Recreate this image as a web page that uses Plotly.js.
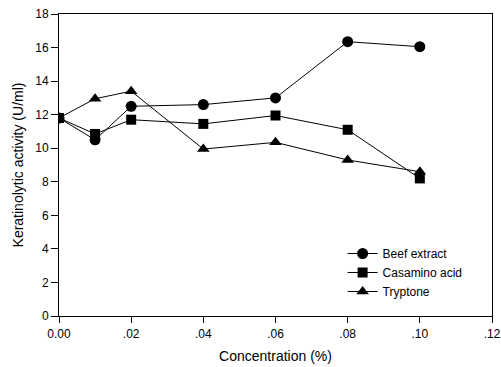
<!DOCTYPE html>
<html><head><meta charset="utf-8">
<script src="https://cdn.plot.ly/plotly-3.0.1.min.js"></script>
<style>body{margin:0;padding:0;background:#fff}#chart{width:501px;height:367px}</style>
</head><body><div id="chart"></div>
<script>
var concentration = [0.00, 0.01, 0.02, 0.04, 0.06, 0.08, 0.10];
var beefExtract = [11.8, 10.5, 12.5, 12.6, 13.0, 16.35, 16.05];
var casaminoAcid = [11.8, 10.85, 11.7, 11.45, 11.95, 11.1, 8.2];
var tryptone = [11.8, 12.95, 13.4, 9.95, 10.35, 9.3, 8.6];
var xTickVals = [0, 0.02, 0.04, 0.06, 0.08, 0.10, 0.12];
var xTickText = ['0.00', '.02', '.04', '.06', '.08', '.10', '.12'];
var yTickVals = [0, 2, 4, 6, 8, 10, 12, 14, 16, 18];

function tr(name, y, sym, size) {
  return {x: concentration, y: y, name: name, type: 'scatter', mode: 'lines+markers',
    line: {color: '#000', width: 1},
    marker: {symbol: sym, size: size, color: '#000'}};
}
var data = [
  tr('Beef extract', beefExtract, 'circle', 11),
  tr('Casamino acid', casaminoAcid, 'square', 10),
  tr('Tryptone', tryptone, 'triangle-up', 11)
];
var layout = {
  width: 501, height: 367,
  margin: {l: 59, r: 9, t: 14, b: 51},
  paper_bgcolor: '#fff', plot_bgcolor: '#fff',
  font: {family: 'Liberation Sans, Arial, sans-serif', size: 12, color: '#000'},
  showlegend: true,
  legend: {x: 0.655, y: 0.255, xanchor: 'left', yanchor: 'top', bgcolor: 'rgba(0,0,0,0)',
    font: {size: 12}, tracegroupgap: 0, itemwidth: 30},
  xaxis: {range: [0, 0.12], tickvals: xTickVals, ticktext: xTickText,
    showgrid: false, zeroline: false, showline: true, linecolor: '#000', linewidth: 1,
    mirror: true, ticks: 'outside', ticklen: 6, tickcolor: '#000', ticklabelstandoff: 1,
    tickfont: {size: 12},
    title: {text: 'Concentration (%)', font: {size: 14}, standoff: 10}},
  yaxis: {range: [0, 18], tickvals: yTickVals,
    showgrid: false, zeroline: false, showline: true, linecolor: '#000', linewidth: 1,
    mirror: true, ticks: 'outside', ticklen: 7, tickcolor: '#000',
    tickfont: {size: 12},
    title: {text: 'Keratinolytic activity (U/ml)', font: {size: 14}, standoff: 8}}
};
Plotly.newPlot('chart', data, layout, {displayModeBar: false, staticPlot: true});
</script></body></html>
